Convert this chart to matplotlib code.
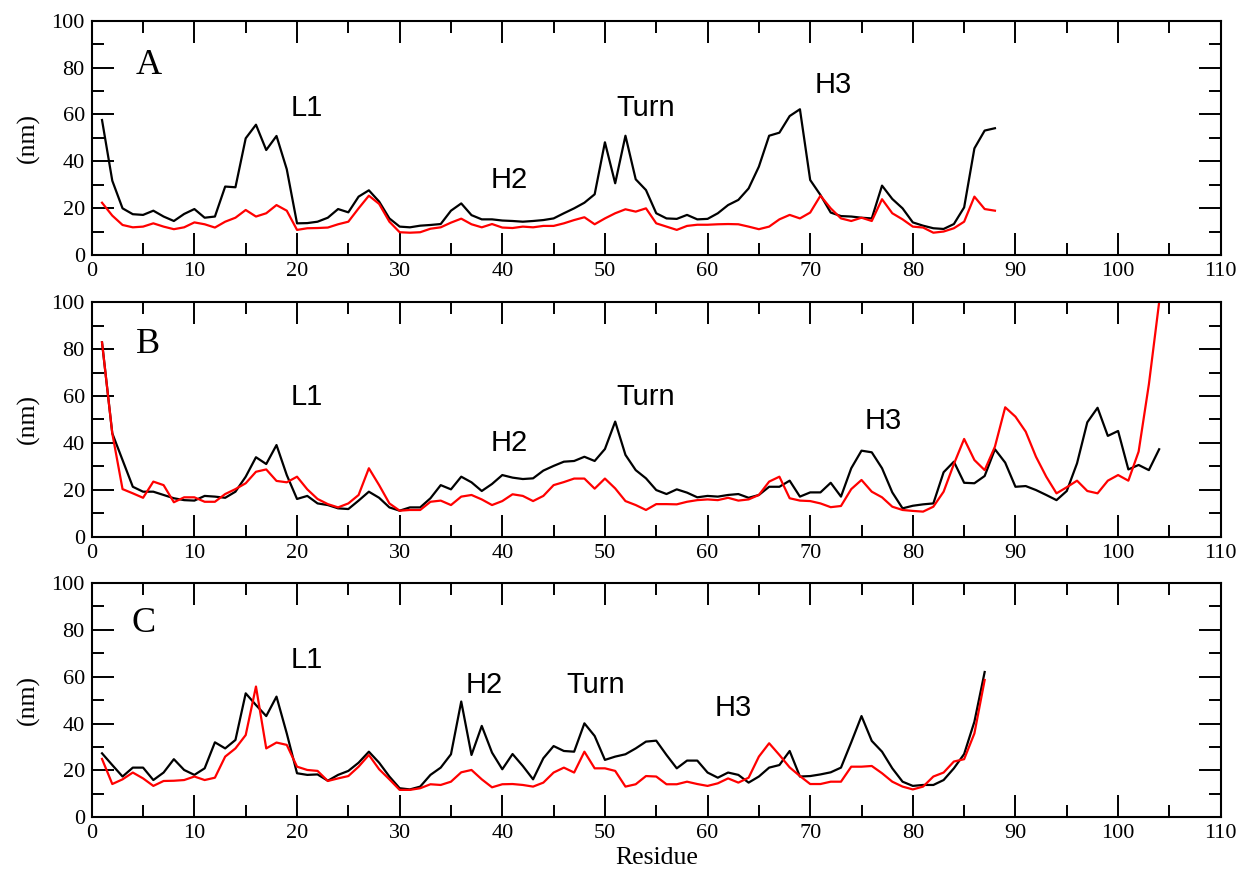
import numpy as np
import matplotlib
matplotlib.use("Agg")
from matplotlib import pyplot as plt
from matplotlib.ticker import MultipleLocator

# fluctuation per residue, three systems (black / red traces)
a_black = [57.6, 31.7, 19.9, 17.4, 17.1, 18.9, 16.4, 14.5, 17.5, 19.6,
           15.9, 16.4, 29.2, 28.9, 49.8, 55.6, 44.8, 50.8, 36.6, 13.5,
           13.6, 14.2, 15.9, 19.6, 18.2, 24.9, 27.6, 22.8, 15.6, 12.1,
           11.8, 12.5, 12.8, 13.2, 18.9, 22.0, 17.0, 15.2, 15.2, 14.7,
           14.5, 14.2, 14.5, 14.9, 15.6, 17.8, 19.9, 22.3, 25.9, 48.1,
           30.6, 50.9, 32.3, 27.7, 17.8, 15.6, 15.4, 17.1, 15.2, 15.4,
           17.8, 21.3, 23.5, 28.4, 37.7, 50.9, 52.2, 59.3, 62.2, 32.0,
           25.6, 18.1, 16.6, 16.4, 15.9, 15.6, 29.6, 23.9, 19.9, 13.9,
           12.5, 11.4, 11.1, 13.2, 20.3, 45.5, 53.1, 54.1]
a_red = [22.3, 16.8, 12.8, 11.8, 12.1, 13.5, 12.1, 11.0, 11.8, 13.9,
         13.1, 11.7, 14.2, 15.9, 19.2, 16.4, 17.8, 21.3, 18.9, 10.7,
         11.4, 11.5, 11.7, 13.1, 14.2, 19.9, 25.3, 21.8, 14.2, 9.7,
         9.5, 9.7, 11.2, 11.8, 13.8, 15.5, 13.1, 11.8, 13.2, 11.7,
         11.5, 12.1, 11.8, 12.4, 12.4, 13.5, 14.9, 16.1, 13.1, 15.6,
         17.8, 19.5, 18.5, 19.9, 13.5, 12.1, 10.7, 12.4, 12.9, 12.9,
         13.1, 13.2, 13.1, 12.1, 11.0, 12.1, 15.2, 17.1, 15.6, 18.1,
         25.3, 19.9, 15.6, 14.5, 15.9, 14.5, 23.8, 17.8, 15.2, 12.1,
         11.7, 9.5, 10.0, 11.4, 14.2, 24.9, 19.6, 18.9]

b_black = [82.9, 44.1, 32.7, 21.3, 19.2, 19.2, 17.8, 16.4, 15.6, 15.4,
           17.4, 17.1, 16.6, 19.2, 25.6, 33.9, 31.0, 39.1, 26.3, 16.1,
           17.4, 14.2, 13.5, 12.1, 11.8, 15.4, 19.2, 16.6, 12.5, 11.1,
           12.5, 12.5, 16.4, 22.0, 20.2, 25.6, 23.2, 19.5, 22.5, 26.3,
           25.2, 24.6, 24.9, 28.2, 30.2, 32.0, 32.3, 34.1, 32.3, 37.4,
           49.1, 34.9, 28.4, 24.9, 19.9, 18.2, 20.2, 18.8, 16.8, 17.4,
           17.1, 17.8, 18.2, 16.6, 17.8, 21.3, 21.3, 23.9, 17.1, 18.9,
           18.9, 23.0, 17.1, 29.2, 36.7, 36.0, 29.2, 18.9, 12.1, 13.2,
           13.8, 14.2, 27.5, 32.0, 23.0, 22.8, 25.9, 37.3, 31.6, 21.3,
           21.6, 19.9, 17.8, 15.6, 19.5, 31.3, 48.8, 55.0, 43.0, 45.1,
           28.7, 30.6, 28.4, 37.3]
b_red = [82.9, 44.1, 20.3, 18.5, 16.6, 23.5, 22.0, 14.7, 16.8, 16.8,
         14.9, 14.9, 18.2, 20.3, 22.8, 27.7, 28.7, 23.8, 23.2, 25.6,
         20.2, 16.1, 13.9, 12.5, 14.2, 17.8, 29.2, 22.0, 14.2, 11.1,
         11.4, 11.4, 14.9, 15.4, 13.5, 17.1, 17.8, 15.9, 13.5, 15.2,
         18.1, 17.4, 15.2, 17.4, 22.0, 23.3, 24.8, 24.8, 20.5, 24.8,
         20.6, 15.2, 13.5, 11.4, 13.9, 13.9, 13.8, 14.9, 15.6, 15.9,
         15.6, 16.6, 15.4, 15.9, 17.8, 23.5, 25.6, 16.4, 15.4, 15.2,
         14.2, 12.6, 13.1, 20.3, 24.2, 19.2, 16.8, 12.8, 11.4, 11.0,
         10.7, 12.8, 19.2, 31.0, 41.7, 32.7, 28.4, 38.4, 55.2, 51.2,
         44.8, 34.1, 25.6, 18.5, 21.1, 23.9, 19.5, 18.5, 23.9, 26.3,
         23.9, 36.3, 65.0, 100.0]

c_black = [27.3, 22.3, 17.4, 21.2, 21.2, 15.9, 19.1, 24.8, 20.2, 18.1,
           20.9, 32.0, 29.4, 33.0, 52.9, 47.9, 43.2, 51.5, 35.8, 18.8,
           18.1, 18.3, 15.6, 18.1, 19.8, 23.3, 28.0, 23.3, 17.4, 12.4,
           11.9, 13.1, 18.1, 21.2, 26.9, 49.4, 26.6, 39.0, 27.6, 20.5,
           27.0, 21.9, 16.2, 25.2, 30.4, 28.3, 28.0, 40.1, 34.7, 24.5,
           25.9, 26.9, 29.4, 32.3, 32.7, 26.6, 20.9, 24.2, 24.2, 19.1,
           16.9, 19.1, 18.1, 14.8, 17.4, 21.2, 22.3, 28.3, 17.4, 17.6,
           18.3, 19.2, 21.2, 32.0, 43.2, 32.6, 28.0, 20.9, 15.2, 13.4,
           13.8, 13.8, 15.9, 20.9, 27.0, 40.8, 62.0]
c_red = [24.9, 14.2, 16.2, 19.1, 16.6, 13.4, 15.5, 15.6, 15.9, 17.4,
         15.9, 16.9, 25.9, 29.4, 35.1, 55.8, 29.4, 31.9, 30.9, 21.6,
         20.2, 19.8, 15.5, 16.6, 17.6, 21.6, 26.6, 20.5, 16.2, 11.7,
         11.7, 12.4, 14.1, 13.8, 15.2, 19.2, 20.2, 16.2, 12.8, 14.1,
         14.2, 13.8, 13.1, 14.8, 19.1, 21.2, 19.1, 28.0, 20.9, 20.9,
         19.8, 13.1, 14.1, 17.6, 17.4, 14.1, 14.1, 15.2, 14.2, 13.4,
         14.5, 16.6, 14.8, 16.9, 25.9, 31.6, 26.6, 21.3, 17.6, 14.2,
         14.2, 15.2, 15.2, 21.6, 21.6, 21.9, 18.8, 15.2, 13.1, 11.9,
         13.1, 17.4, 19.1, 23.8, 24.8, 35.8, 58.6]

panel_names = ["A", "B", "C"]
region_labels = ["L1", "H2", "Turn", "H3"]
# (x, y) of the region labels in each panel
label_pos = [
    [(20.9, 62.7), (40.7, 32.0), (54.0, 62.7), (72.2, 72.6)],
    [(20.9, 59.6), (40.7, 40.0), (54.0, 59.6), (77.1, 49.4)],
    [(20.9, 67.1), (38.2, 56.6), (49.1, 56.6), (62.5, 46.8)],
]
name_pos = [(5.5, 81.0), (5.5, 81.8), (5.0, 82.9)]

series = [(a_black, a_red), (b_black, b_red), (c_black, c_red)]

serif = ["Liberation Serif", "DejaVu Serif"]
sans = ["Liberation Sans", "DejaVu Sans"]

fig = plt.figure(figsize=(12.45, 8.81), dpi=100)
left, right = 0.0737, 0.9805
boxes = [(0.7106, 0.9765), (0.3908, 0.6569), (0.0723, 0.3383)]

for i, (blk, red) in enumerate(series):
    bot, top = boxes[i]
    ax = fig.add_axes([left, bot, right - left, top - bot])
    xb = np.arange(1, len(blk) + 1)
    xr = np.arange(1, len(red) + 1)
    ax.plot(xb, blk, color="black", lw=1.6)
    ax.plot(xr, red, color="#ff0000", lw=1.6)

    ax.set_xlim(0, 110)
    ax.set_ylim(0, 100)
    ax.xaxis.set_major_locator(MultipleLocator(10))
    ax.xaxis.set_minor_locator(MultipleLocator(5))
    ax.yaxis.set_major_locator(MultipleLocator(20))
    ax.yaxis.set_minor_locator(MultipleLocator(10))
    ax.tick_params(which="both", direction="in", top=True, right=True,
                   width=1.4, labelsize=16, pad=5)
    ax.tick_params(which="major", length=16)
    ax.tick_params(which="minor", length=8.5)
    for s in ax.spines.values():
        s.set_linewidth(1.5)
    for lab in ax.get_xticklabels() + ax.get_yticklabels():
        lab.set_family(serif)
    ax.set_ylabel("(nm)", fontsize=18.5, family=serif, labelpad=8)

    nx, ny = name_pos[i]
    ax.text(nx, ny, panel_names[i], fontsize=26, family=serif,
            ha="center", va="center")
    for txt, (tx, ty) in zip(region_labels, label_pos[i]):
        ax.text(tx, ty, txt, fontsize=21, family=sans,
                ha="center", va="center")

    if i == 2:
        ax.set_xlabel("Residue", fontsize=18.5, family=serif, labelpad=3)

fig.savefig("out.png", dpi=100)
